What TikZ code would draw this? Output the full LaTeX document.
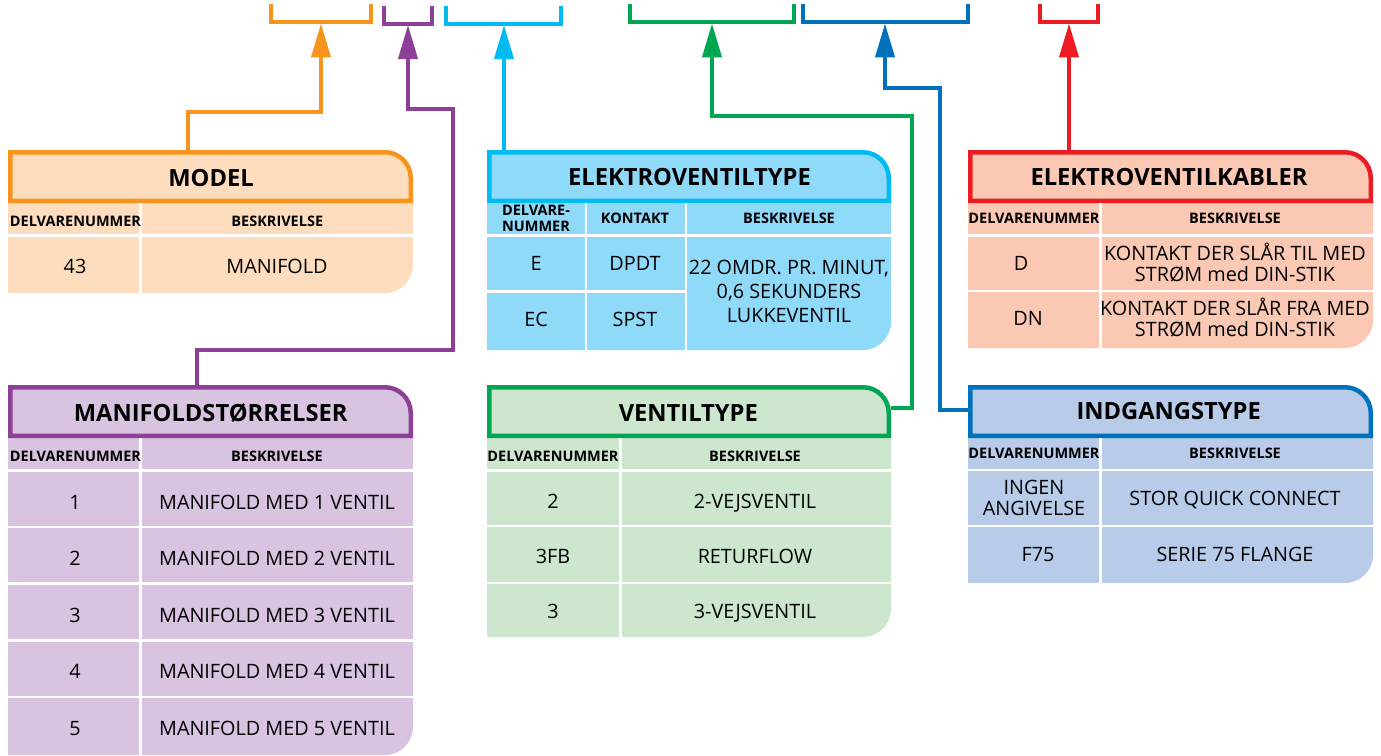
\documentclass[tikz,border=0pt]{standalone}
\usepackage{fontspec}
\setmainfont{Open Sans}
\usetikzlibrary{arrows.meta,calc}
\definecolor{cOrange}{HTML}{F7941D}\definecolor{fOrange}{HTML}{FDDDBD}
\definecolor{cPurple}{HTML}{8E3F98}\definecolor{fPurple}{HTML}{D8C4E1}
\definecolor{cCyan}{HTML}{00BAF2}\definecolor{fCyan}{HTML}{8FD9F9}
\definecolor{cGreen}{HTML}{00A651}\definecolor{fGreen}{HTML}{CCE7CD}
\definecolor{cBlue}{HTML}{0072BC}\definecolor{fBlue}{HTML}{B8CCEA}
\definecolor{cRed}{HTML}{ED1C24}\definecolor{fRed}{HTML}{FBC8B3}
\tikzset{
  x=1pt,y=-1pt,
  every node/.style={inner sep=0pt,outer sep=0pt,text=black},
  titletext/.style={font=\fontsize{23.7}{26}\selectfont\bfseries,text height=18pt,text depth=0pt},
  headtext/.style={font=\fontsize{14.5}{16}\selectfont\bfseries,text height=11.4pt,text depth=0pt},
  headtwo/.style={font=\fontsize{14.5}{16}\selectfont\bfseries,align=center},
  cellone/.style={font=\fontsize{19.8}{24}\selectfont,text height=15.2pt,text depth=0pt},
  celltext/.style={font=\fontsize{19.8}{24}\selectfont,align=center},
  celltight/.style={font=\fontsize{19.8}{21}\selectfont,align=center},
  conn/.style={line width=4pt,miter limit=10},
  tipped/.style={conn,{Triangle[length=34pt,width=19pt,inset=0pt,sep=0pt]}-},
  bracket/.style={line width=4pt,line join=miter},
  whiterule/.style={draw=white,line width=2.8pt}
}
% name, x0, x1, ytop, ytitle, ybottom, stroke, fill
\newcommand{\tablebox}[8]{%
  \fill[#8] (#2,#5-5) -- (#2,#6) -- (#3-28,#6) arc[start angle=270,end angle=360,x radius=28,y radius=-28] -- (#3,#5-5) -- cycle;
  \draw[#7,line width=4.5pt,line join=miter,fill=#8]
    (#2+2.25,#5-2.25) -- (#2+2.25,#4+2.25) -- (#3-28,#4+2.25)
    arc[start angle=90,end angle=0,x radius=25.75,y radius=-25.75]
    -- (#3-2.25,#5-2.25) -- cycle;
  \node[minimum width=#3-#2,minimum height=#5-#4,anchor=north west] (#1) at (#2,#4) {};
}
\newcommand{\cellnode}[5][cellone]{\node[#1] (#2) at (#3,#4) {#5};}
\begin{document}
\begin{tikzpicture}
\useasboundingbox (0,0) rectangle (1381,755);

% ---------- MODEL
\tablebox{model}{8}{413}{150}{203}{293}{cOrange}{fOrange}
\cellnode[titletext]{modelT}{211}{177}{MODEL}
\draw[whiterule] (8,235.7) -- (413,235.7) (140.7,203) -- (140.7,293);
\cellnode[headtext]{modelH1}{75.5}{220.7}{DELVARENUMMER}
\cellnode[headtext]{modelH2}{277.3}{220.7}{BESKRIVELSE}
\cellnode{modelA1}{75}{265.7}{43}
\cellnode{modelA2}{277}{265.7}{MANIFOLD}

% ---------- ELEKTROVENTILTYPE
\tablebox{elek}{487}{891}{150}{203}{350}{cCyan}{fCyan}
\cellnode[titletext]{elekT}{689.5}{176.7}{ELEKTROVENTILTYPE}
\draw[whiterule] (487,235.5) -- (891,235.5) (487,291.3) -- (686,291.3)
  (586,203) -- (586,350) (686,203) -- (686,350);
\cellnode[headtwo]{elekH1}{536}{218}{DELVARE-\\NUMMER}
\cellnode[headtext]{elekH2}{635}{217.7}{KONTAKT}
\cellnode[headtext]{elekH3}{789}{217.7}{BESKRIVELSE}
\cellnode{elekA1}{536}{263}{E}
\cellnode{elekA2}{635}{263}{DPDT}
\cellnode{elekB1}{536}{319}{EC}
\cellnode{elekB2}{635}{319}{SPST}
\cellnode[celltext]{elekD}{789}{291.7}{22 OMDR. PR. MINUT,\\0,6 SEKUNDERS\\LUKKEVENTIL}

% ---------- ELEKTROVENTILKABLER
\tablebox{kabl}{968}{1373}{150}{203}{348}{cRed}{fRed}
\cellnode[titletext]{kablT}{1169}{176.7}{ELEKTROVENTILKABLER}
\draw[whiterule] (968,235.7) -- (1373,235.7) (968,291) -- (1373,291) (1100.7,203) -- (1100.7,348);
\cellnode[headtext]{kablH1}{1034}{218}{DELVARENUMMER}
\cellnode[headtext]{kablH2}{1235}{218}{BESKRIVELSE}
\cellnode{kablA1}{1021}{263.3}{D}
\cellnode[celltight]{kablA2}{1235}{262.3}{KONTAKT DER SLÅR TIL MED\\STRØM med DIN-STIK}
\cellnode{kablB1}{1028}{318.3}{DN}
\cellnode[celltight]{kablB2}{1235}{317.3}{KONTAKT DER SLÅR FRA MED\\STRØM med DIN-STIK}

% ---------- MANIFOLDSTØRRELSER
\tablebox{mani}{8}{413}{385}{438}{755}{cPurple}{fPurple}
\cellnode[titletext]{maniT}{210.7}{412.3}{MANIFOLDSTØRRELSER}
\draw[whiterule] (8,470.5) -- (413,470.5) (8,527) -- (413,527) (8,583.7) -- (413,583.7)
  (8,640.5) -- (413,640.5) (8,697) -- (413,697) (140.7,438) -- (140.7,755);
\cellnode[headtext]{maniH1}{75.5}{455.7}{DELVARENUMMER}
\cellnode[headtext]{maniH2}{277}{455.7}{BESKRIVELSE}
\cellnode{maniA1}{75}{501.7}{1}
\cellnode{maniA2}{277}{501.7}{MANIFOLD MED 1 VENTIL}
\cellnode{maniB1}{75}{557.7}{2}
\cellnode{maniB2}{277}{557.7}{MANIFOLD MED 2 VENTIL}
\cellnode{maniC1}{75}{614.7}{3}
\cellnode{maniC2}{277}{614.7}{MANIFOLD MED 3 VENTIL}
\cellnode{maniD1}{75}{670.7}{4}
\cellnode{maniD2}{277}{670.7}{MANIFOLD MED 4 VENTIL}
\cellnode{maniE1}{75}{727.7}{5}
\cellnode{maniE2}{277}{727.7}{MANIFOLD MED 5 VENTIL}

% ---------- VENTILTYPE
\tablebox{vent}{487}{891}{385}{438}{637}{cGreen}{fGreen}
\cellnode[titletext]{ventT}{688.3}{412.3}{VENTILTYPE}
\draw[whiterule] (487,470.5) -- (891,470.5) (487,526) -- (891,526) (487,583) -- (891,583)
  (620.7,438) -- (620.7,637);
\cellnode[headtext]{ventH1}{553}{455.7}{DELVARENUMMER}
\cellnode[headtext]{ventH2}{755}{455.7}{BESKRIVELSE}
\cellnode{ventA1}{553}{501}{2}
\cellnode{ventA2}{755}{501}{2-VEJSVENTIL}
\cellnode{ventB1}{553}{556}{3FB}
\cellnode{ventB2}{755}{556}{RETURFLOW}
\cellnode{ventC1}{553}{610.7}{3}
\cellnode{ventC2}{755}{610.7}{3-VEJSVENTIL}

% ---------- INDGANGSTYPE
\tablebox{indg}{968}{1373}{385}{438}{583}{cBlue}{fBlue}
\cellnode[titletext]{indgT}{1168.7}{410.7}{INDGANGSTYPE}
\draw[whiterule] (968,470) -- (1373,470) (968,526) -- (1373,526) (1100.7,438) -- (1100.7,583);
\cellnode[headtext]{indgH1}{1034}{452.7}{DELVARENUMMER}
\cellnode[headtext]{indgH2}{1235}{452.7}{BESKRIVELSE}
\cellnode[celltight]{indgA1}{1034}{498}{INGEN\\ANGIVELSE}
\cellnode{indgA2}{1235}{498.3}{STOR QUICK CONNECT}
\cellnode{indgB1}{1038}{553.7}{F75}
\cellnode{indgB2}{1235}{553.7}{SERIE 75 FLANGE}

% ---------- brackets
\coordinate (tipOrange) at (321,23.4);
\coordinate (tipPurple) at (408,25);
\coordinate (tipCyan) at (504,25);
\coordinate (tipGreen) at (712,23.4);
\coordinate (tipBlue) at (885,23.4);
\coordinate (tipRed) at (1069,23.4);
\draw[bracket,cOrange] (271,4) |- ([yshift=1pt]tipOrange) -| (371,4);
\draw[bracket,cPurple] (384,6) |- ([yshift=1pt]tipPurple) -| (432,6);
\draw[bracket,cCyan] (446,6) |- ([yshift=1pt]tipCyan) -| (561,6);
\draw[bracket,cGreen] (630,4) |- ([yshift=1pt]tipGreen) -| (794,4);
\draw[bracket,cBlue] (803,4) |- ([yshift=1pt]tipBlue) -| (968,4);
\draw[bracket,cRed] (1040,4) |- ([yshift=1pt]tipRed) -| (1098,4);

% ---------- connectors
\draw[tipped,cOrange] (tipOrange) -- (321,112) -- (188,112) -- (188,112 |- model.north);
\draw[tipped,cPurple] (tipPurple) -- (408,109) -- (453,109) -- (453,350) -- (197,350) -- (197,350 |- mani.north);
\draw[tipped,cCyan] (tipCyan) -- (504,26 |- elek.north);
\draw[tipped,cGreen] (tipGreen) -- (712,116) -- (912,116) -- (912,408) -- (vent.east |- 912,408);
\draw[tipped,cBlue] (tipBlue) -- (885,88) -- (940,88) -- (940,410) -- (indg.west |- 940,410);
\draw[tipped,cRed] (tipRed) -- (1069,26 |- kabl.north);
\end{tikzpicture}
\end{document}
